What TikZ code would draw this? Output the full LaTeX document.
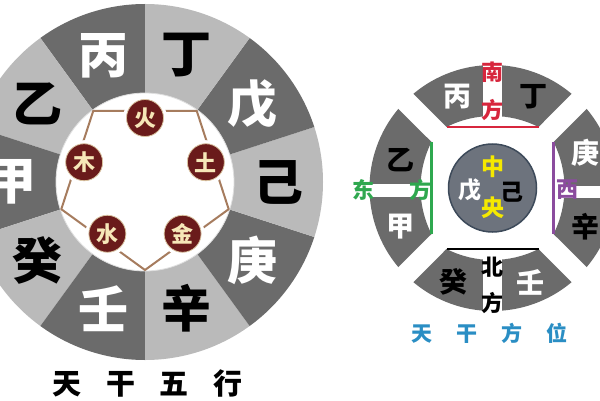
\documentclass[tikz,border=0pt]{standalone}
\usepackage{fontspec}
\usetikzlibrary{calc}
\newfontfamily\cjk{Noto Sans CJK SC}
\definecolor{dk}{HTML}{6B6B6B}
\definecolor{lt}{HTML}{BABABA}
\definecolor{maroon}{HTML}{6A1B1B}
\definecolor{cream}{HTML}{F6E7B8}
\definecolor{tan}{HTML}{A67C5E}
\definecolor{dirred}{HTML}{D7263D}
\definecolor{dirgreen}{HTML}{2FA84F}
\definecolor{dirpurple}{HTML}{8B4C9E}
\definecolor{titleblue}{HTML}{2A8EC4}
\definecolor{slate}{HTML}{6D737D}
\definecolor{slateedge}{HTML}{3D4A5A}
\definecolor{yel}{HTML}{F5E900}
\begin{document}
\begin{tikzpicture}[x=1pt,y=1pt,
  big/.style={font=\cjk\bfseries\fontsize{50}{50}\selectfont, inner sep=0pt},
  mid/.style={font=\cjk\bfseries\fontsize{28}{28}\selectfont, inner sep=0pt},
  dirtxt/.style={font=\cjk\bfseries\fontsize{22}{22}\selectfont, inner sep=0pt},
  ctr/.style={font=\cjk\bfseries\fontsize{23}{23}\selectfont, inner sep=0pt},
  elem/.style={circle, minimum size=37pt, inner sep=0pt, fill=maroon,
    draw={rgb,255:red,217;green,195;blue,160}, line width=0.8pt,
    preaction={draw=white,line width=7pt},
    text=cream, font=\cjk\bfseries\fontsize{22}{22}\selectfont},
  pent/.style={draw=tan, line width=2pt},
  sector/.style={fill=dk},
  band/.style={fill=white},
  chord/.style={line width=2.5pt}]
\useasboundingbox (0,0) rectangle (600,400);
\clip (0,0) rectangle (600,400);
\fill[white] (0,0) rectangle (600,400);

% ---------------- left wheel ----------------
\coordinate (L) at (145,218);
\foreach \a [count=\i] in {90,126,162,198,234,270,306,342,18,54}{
  \pgfmathtruncatemacro{\odd}{mod(\i,2)}
  \ifnum\odd=1
    \fill[dk] (L) -- ++(\a:178) arc[start angle=\a, delta angle=36, radius=178] -- cycle;
  \else
    \fill[lt] (L) -- ++(\a:178) arc[start angle=\a, delta angle=36, radius=178] -- cycle;
  \fi
}
\node[big, text=white] (bing) at ($(L)+(108:133)$) {丙};
\node[big, text=black] (yi)   at ($(L)+(144:133)$) {乙};
\node[big, text=white] (jia)  at ($(L)+(180:133)$) {甲};
\node[big, text=black] (gui)  at ($(L)+(216:133)$) {癸};
\node[big, text=white] (ren)  at ($(L)+(252:133)$) {壬};
\node[big, text=black] (xin)  at ($(L)+(288:133)$) {辛};
\node[big, text=white] (geng) at ($(L)+(324:133)$) {庚};
\node[big, text=black] (ji)   at ($(L)+(0:133)$)   {己};
\node[big, text=white] (wu)   at ($(L)+(36:133)$)  {戊};
\node[big, text=black] (ding) at ($(L)+(72:133)$)  {丁};

\fill[white] (L) circle[radius=89];
\draw[gray!25, line width=0.8pt] (L) circle[radius=89];

\coordinate (p1) at ($(L)+(-90:88)$);
\coordinate (p2) at ($(L)+(-18:88)$);
\coordinate (p3) at ($(L)+(54:88)$);
\coordinate (p4) at ($(L)+(126:88)$);
\coordinate (p5) at ($(L)+(198:88)$);
\draw[pent, line join=round] (p1) -- (p2) -- (p3) -- (p4) -- (p5) -- cycle;

\node[elem] (huo)  at ($(L)+(90:64)$)   {火};
\node[elem] (tu)   at ($(L)+(18:64)$)   {土};
\node[elem] (jin)  at ($(L)+(-54:64)$)  {金};
\node[elem] (shui) at ($(L)+(-126:64)$) {水};
\node[elem] (mu)   at ($(L)+(162:64)$)  {木};

\node[font=\cjk\bfseries\fontsize{29}{29}\selectfont, inner sep=0pt] (t1) at (147.5,17)
  {天\hspace{24.7pt}干\hspace{24.7pt}五\hspace{24.7pt}行};

% ---------------- right diagram ----------------
\begin{scope}[shift={(492.5,212)}]
  \fill[sector] (50:123) arc[start angle=50, end angle=130, radius=123] -- (-46,61)
     arc[start angle=116.9, end angle=63.1, radius=101.7] -- cycle;
  \fill[sector] (140:123) arc[start angle=140, end angle=220, radius=123] -- (-61,-46)
     arc[start angle=206.9, end angle=153.1, radius=101.7] -- cycle;
  \fill[sector] (230:123) arc[start angle=230, end angle=310, radius=123] -- (46,-61)
     arc[start angle=296.9, end angle=243.1, radius=101.7] -- cycle;
  \fill[sector] (-40:123) arc[start angle=-40, end angle=40, radius=123] -- (61,46)
     arc[start angle=26.9, end angle=-26.9, radius=101.7] -- cycle;
  % white bands
  \fill[band] (-9.5,58) rectangle (9.5,128);
  \fill[band] (-9.5,-58) rectangle (9.5,-128);
  \fill[band] (-130,-9) rectangle (-58,4);
  \fill[band] (58,-10) rectangle (130,2);
  % chords
  \coordinate (s1) at (-46,61);  \coordinate (s2) at (46,61);
  \coordinate (n1) at (-46,-61); \coordinate (n2) at (46,-61);
  \coordinate (e1) at (-61,46);  \coordinate (e2) at (-61,-46);
  \coordinate (w1) at (61,46);   \coordinate (w2) at (61,-46);
  \draw[chord, dirred] (s1) -- (s2);
  \draw[chord, black] (n1) -- (n2);
  \draw[chord, dirgreen] (e1) -- (e2);
  \draw[chord, dirpurple] (w1) -- (w2);
  % center circle
  \node[circle, minimum size=88pt, inner sep=0pt, fill=slate, draw=slateedge, line width=1.5pt] (cen) at (0,0) {};
  \node[ctr, text=yel] (zhong) at (0,21) {中};
  \node[ctr, text=yel] (yang) at (0,-20) {央};
  \node[ctr, text=white] (cwu) at (-22.5,-2) {戊};
  \node[ctr, text=black] (cji) at (19.5,-4) {己};
  % stems
  \node[mid, text=white] (rbing) at (-35.5,91) {丙};
  \node[mid, text=black] (rding) at (40.5,91) {丁};
  \node[mid, text=black] (ryi) at (-92.5,28) {乙};
  \node[mid, text=white] (rjia) at (-92.5,-39) {甲};
  \node[mid, text=white] (rgeng) at (92.5,35) {庚};
  \node[mid, text=black] (rxin) at (92.5,-39) {辛};
  \node[mid, text=black] (rgui) at (-39.5,-94) {癸};
  \node[mid, text=white] (rren) at (37.5,-94) {壬};
  % directions
  \node[dirtxt, text=dirred] (nan) at (0,116) {南};
  \node[dirtxt, text=dirred] (fang1) at (0,78) {方};
  \node[dirtxt, text=dirgreen] (dong) at (-129.5,-2) {东};
  \node[dirtxt, text=dirgreen] (fang2) at (-72.5,-2) {方};
  \node[dirtxt, text=dirpurple] (xi) at (74.5,-2) {西};
  \node[dirtxt, text=black] (bei) at (0,-79) {北};
  \node[dirtxt, text=black] (fang3) at (0,-115) {方};
\end{scope}
\node[font=\cjk\bfseries\fontsize{21}{21}\selectfont, inner sep=0pt, text=titleblue] (t2) at (489.5,67)
  {天\hspace{24pt}干\hspace{24pt}方\hspace{24pt}位};
\end{tikzpicture}
\end{document}
